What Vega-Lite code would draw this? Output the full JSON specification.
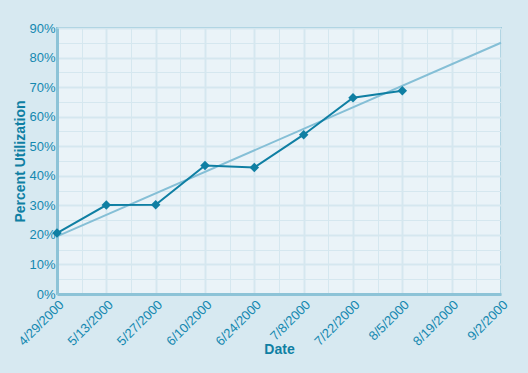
{
  "$schema": "https://vega.github.io/schema/vega-lite/v6.json",
  "width": 444,
  "height": 266,
  "autosize": {"type": "none"},
  "padding": {"left": 57, "top": 28, "right": 27, "bottom": 79},
  "background": "#d7e9f1",
  "config": {
    "font": "Liberation Sans",
    "view": {"fill": "#eaf3f8", "stroke": "#8dc3d7", "strokeWidth": 2},
    "axis": {
      "labelColor": "#1488b0",
      "titleColor": "#0f7fa3",
      "labelFont": "Liberation Sans",
      "titleFont": "Liberation Sans",
      "labelFontSize": 13,
      "titleFontSize": 14,
      "titleFontWeight": "bold",
      "gridColor": "#d5e7ef",
      "domainColor": "#8dc3d7",
      "domainWidth": 3,
      "ticks": false
    }
  },
  "datasets": {
    "util": [
      {"date": "2000-04-29", "pct": 20.6},
      {"date": "2000-05-13", "pct": 30.1},
      {"date": "2000-05-27", "pct": 30.2},
      {"date": "2000-06-10", "pct": 43.5},
      {"date": "2000-06-24", "pct": 42.8},
      {"date": "2000-07-08", "pct": 53.9},
      {"date": "2000-07-22", "pct": 66.4},
      {"date": "2000-08-05", "pct": 68.8}
    ],
    "trend": [
      {"date": "2000-04-29", "pct": 19.5},
      {"date": "2000-09-02", "pct": 85}
    ]
  },
  "encoding": {
    "x": {
      "field": "date",
      "type": "temporal",
      "title": "Date",
      "scale": {"type": "utc", "domain": [956966400000, 967852800000], "nice": false},
      "axis": {
        "values": [956966400000, 957571200000, 958176000000, 958780800000, 959385600000, 959990400000, 960595200000, 961200000000, 961804800000, 962409600000, 963014400000, 963619200000, 964224000000, 964828800000, 965433600000, 966038400000, 966643200000, 967248000000, 967852800000],
        "labelExpr": "round((datum.value - 956966400000) / 604800000) % 2 == 0 ? utcFormat(datum.value, '%-m/%-d/%Y') : ''",
        "labelAngle": -45,
        "labelAlign": "right",
        "labelBaseline": "top",
        "labelPadding": 4,
        "labelOverlap": false,
        "gridWidth": {"condition": {"test": "round((datum.value - 956966400000) / 604800000) % 2 == 0", "value": 2}, "value": 1},
        "titleY": 48
      }
    },
    "y": {
      "field": "pct",
      "type": "quantitative",
      "title": "Percent Utilization",
      "scale": {"domain": [0, 90], "nice": false},
      "axis": {
        "values": [0, 5, 10, 15, 20, 25, 30, 35, 40, 45, 50, 55, 60, 65, 70, 75, 80, 85, 90],
        "labelExpr": "datum.value % 10 == 0 ? datum.value + '%' : ''",
        "labelPadding": 2,
        "gridWidth": {"condition": {"test": "datum.value % 10 == 0", "value": 2}, "value": 1},
        "titlePadding": 1
      }
    }
  },
  "layer": [
    {
      "data": {"name": "trend"},
      "mark": {"type": "line", "color": "#85bfd6", "strokeWidth": 2}
    },
    {
      "data": {"name": "util"},
      "mark": {"type": "line", "color": "#0f7fa3", "strokeWidth": 2, "point": {"shape": "diamond", "size": 90, "filled": true, "color": "#0f7fa3", "opacity": 1}}
    }
  ]
}
